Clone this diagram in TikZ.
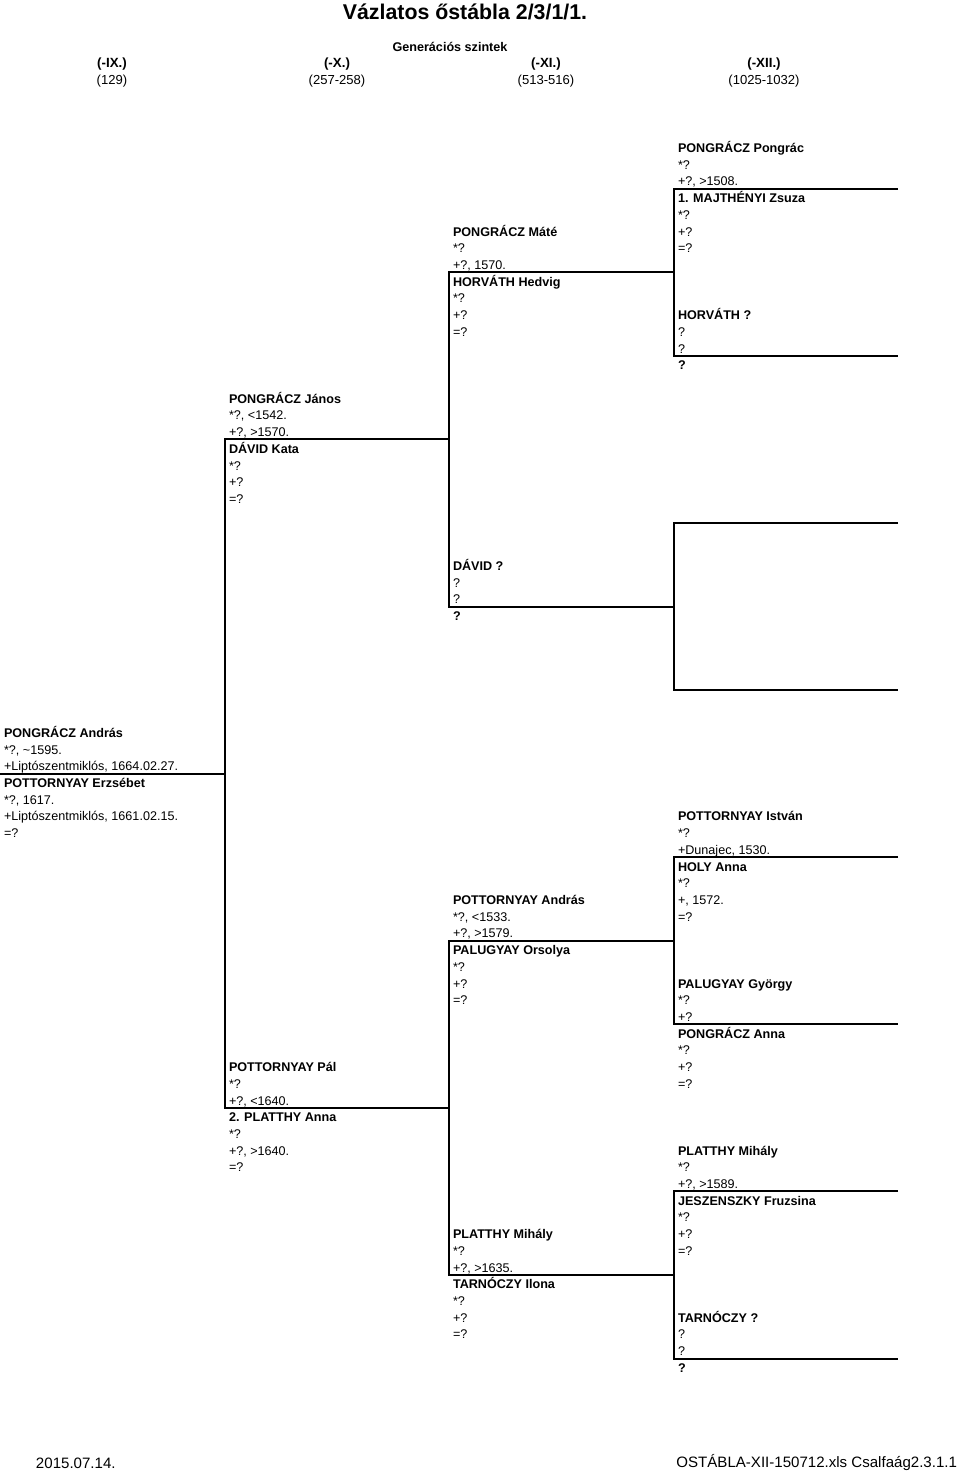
\documentclass[tikz,border=0pt]{standalone}
\usepackage{fontspec}
\setmainfont{Liberation Sans}
\newcommand\rs{\rule{0pt}{9pt}}
\tikzset{every picture/.style={line width=1.5pt}}
\tikzset{
  person/.style={anchor=north west, inner sep=0pt, align=left, font=\fontsize{9.45}{12.53}\selectfont},
  headtext/.style={inner sep=0pt, font=\fontsize{9.8}{12}\selectfont},
  foottext/.style={inner sep=0pt, font=\fontsize{11.3}{13}\selectfont},
}

\begin{document}
\begin{tikzpicture}[x=0.75pt,y=0.75pt,yscale=-1,xscale=1]
\path[use as bounding box] (0,0) rectangle (960,1473);

% Header
\node (title) [inner sep=0pt, font=\fontsize{16}{18}\selectfont\bfseries] at (465,12) {Vázlatos őstábla 2/3/1/1.};
\node (szintek) [headtext, font=\fontsize{9.45}{12}\selectfont\bfseries] at (450,47) {Generációs szintek};
\node (gen9) [headtext, font=\bfseries] at (112,64) {(-IX.)};
\node (gen10) [headtext, font=\bfseries] at (337,64) {(-X.)};
\node (gen11) [headtext, font=\bfseries] at (546,64) {(-XI.)};
\node (gen12) [headtext, font=\bfseries] at (764,64) {(-XII.)};
\node (num9) [headtext] at (112,81) {(129)};
\node (num10) [headtext] at (337,81) {(257-258)};
\node (num11) [headtext] at (546,81) {(513-516)};
\node (num12) [headtext] at (764,81) {(1025-1032)};

% Connection
\draw (898,188.8) -- (674,188.8) -- (674,355.9) -- (898,355.9);
\draw (898,523.0) -- (674,523.0) -- (674,690.1) -- (898,690.1);
\draw (898,857.2) -- (674,857.2) -- (674,1024.3) -- (898,1024.3);
\draw (898,1191.4) -- (674,1191.4) -- (674,1358.5) -- (898,1358.5);
% Connection
\draw (674,272.3) -- (449,272.3) -- (449,606.5) -- (674,606.5);
\draw (674,940.7) -- (449,940.7) -- (449,1274.9) -- (674,1274.9);
% Connection
\draw (449,439.4) -- (225,439.4) -- (225,1107.8) -- (449,1107.8);
\draw (0,773.6) -- (225,773.6);

% Text Node (-IX.)
\node (andras) [person] at (3,724.4) {\rs\textbf{PONGRÁCZ András}\\{}*?, \textasciitilde1595.\\+Liptószentmiklós, 1664.02.27.};
\node (erzsebet) [person] at (3,774.5) {\rs\textbf{POTTORNYAY Erzsébet}\\{}*?, 1617.\\+Liptószentmiklós, 1661.02.15.\\{}=?};

% Text Node (-X.)
\node (janos) [person] at (228,390.2) {\rs\textbf{PONGRÁCZ János}\\{}*?, <1542.\\+?, >1570.};
\node (kata) [person] at (228,440.3) {\rs\textbf{DÁVID Kata}\\{}*?\\+?\\{}=?};
\node (pal) [person] at (228,1058.6) {\rs\textbf{POTTORNYAY Pál}\\{}*?\\+?, <1640.};
\node (platthyanna) [person] at (228,1108.7) {\rs\textbf{2. PLATTHY Anna}\\{}*?\\+?, >1640.\\{}=?};

% Text Node (-XI.)
\node (mate) [person] at (452,223.1) {\rs\textbf{PONGRÁCZ Máté}\\{}*?\\+?, 1570.};
\node (hedvig) [person] at (452,273.2) {\rs\textbf{HORVÁTH Hedvig}\\{}*?\\+?\\{}=?};
\node (david) [person] at (452,557.3) {\rs\textbf{DÁVID ?}\\?\\?};
\node (davidw) [person] at (452,607.4) {\rs\textbf{?}};
\node (andras3) [person] at (452,891.5) {\rs\textbf{POTTORNYAY András}\\{}*?, <1533.\\+?, >1579.};
\node (orsolya) [person] at (452,941.6) {\rs\textbf{PALUGYAY Orsolya}\\{}*?\\+?\\{}=?};
\node (mihaly3) [person] at (452,1225.7) {\rs\textbf{PLATTHY Mihály}\\{}*?\\+?, >1635.};
\node (ilona) [person] at (452,1275.8) {\rs\textbf{TARNÓCZY Ilona}\\{}*?\\+?\\{}=?};

% Text Node (-XII.)
\node (pongrac) [person] at (677,139.5) {\rs\textbf{PONGRÁCZ Pongrác}\\{}*?\\+?, >1508.};
\node (majthenyi) [person] at (677,189.6) {\rs\textbf{1. MAJTHÉNYI Zsuza}\\{}*?\\+?\\{}=?};
\node (horvath) [person] at (677,306.6) {\rs\textbf{HORVÁTH ?}\\?\\?};
\node (horvathw) [person] at (677,356.7) {\rs\textbf{?}};
\node (istvan) [person] at (677,807.9) {\rs\textbf{POTTORNYAY István}\\{}*?\\+Dunajec, 1530.};
\node (holy) [person] at (677,858.0) {\rs\textbf{HOLY Anna}\\{}*?\\+, 1572.\\{}=?};
\node (gyorgy) [person] at (677,975.0) {\rs\textbf{PALUGYAY György}\\{}*?\\+?};
\node (pongraczanna) [person] at (677,1025.1) {\rs\textbf{PONGRÁCZ Anna}\\{}*?\\+?\\{}=?};
\node (mihaly4) [person] at (677,1142.1) {\rs\textbf{PLATTHY Mihály}\\{}*?\\+?, >1589.};
\node (jeszenszky) [person] at (677,1192.2) {\rs\textbf{JESZENSZKY Fruzsina}\\{}*?\\+?\\{}=?};
\node (tarnoczy) [person] at (677,1309.2) {\rs\textbf{TARNÓCZY ?}\\?\\?};
\node (tarnoczyw) [person] at (677,1359.3) {\rs\textbf{?}};

% Footer
\node (datum) [foottext, anchor=west] at (35,1463) {2015.07.14.};
\node (fajl) [foottext, anchor=east] at (958,1463) {OSTÁBLA-XII-150712.xls Csalfaág2.3.1.1};

\end{tikzpicture}
\end{document}
